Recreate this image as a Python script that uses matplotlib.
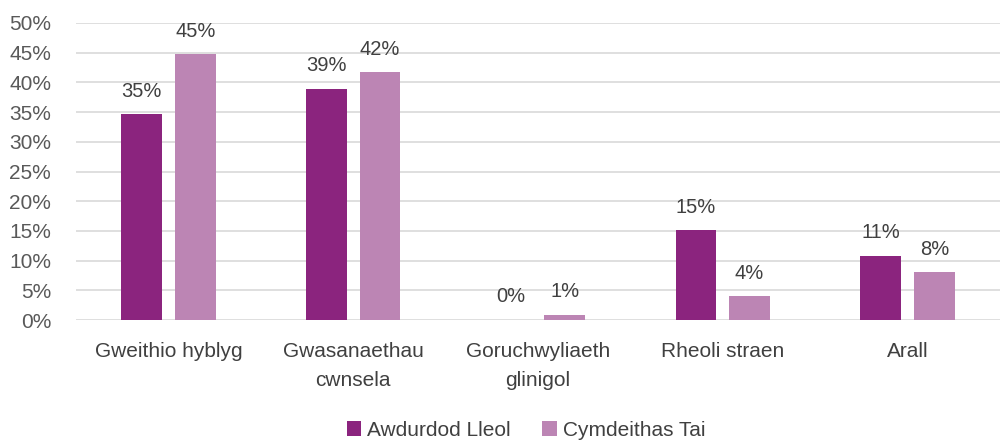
import matplotlib
matplotlib.use("Agg")
import matplotlib.pyplot as plt
import numpy as np

categories = ["Gweithio hyblyg", "Gwasanaethau\ncwnsela", "Goruchwyliaeth\nglinigol",
              "Rheoli straen", "Arall"]
awdurdod = [34.6, 38.9, 0.0, 15.1, 10.8]
cymdeithas = [44.7, 41.7, 0.9, 4.0, 8.05]
series_names = ["Awdurdod Lleol", "Cymdeithas Tai"]
yticks = list(range(0, 51, 5))

plt.rcParams["font.family"] = ["Liberation Sans", "DejaVu Sans"]

fig = plt.figure(figsize=(10.04, 4.41), dpi=100)
ax = fig.add_axes([76 / 1004, 121 / 441, 924 / 1004, 297 / 441])

x = np.arange(len(categories))
w = 0.22
off = 0.145
b1 = ax.bar(x - off, awdurdod, w, color="#8B247E", label=series_names[0], zorder=3)
b2 = ax.bar(x + off, cymdeithas, w, color="#BC85B4", label=series_names[1], zorder=3)

for bars, vals in ((b1, awdurdod), (b2, cymdeithas)):
    for bar, v in zip(bars, vals):
        ax.text(bar.get_x() + bar.get_width() / 2, v + 2.3, f"{round(v):.0f}%",
                ha="center", va="bottom", fontsize=14.5, color="#404040")

ax.set_xlim(-0.5, len(categories) - 0.5)
ax.set_ylim(0, 50)
ax.set_yticks(yticks)
ax.set_yticklabels([f"{t}%" for t in yticks])
ax.set_xticks(x)
ax.set_xticklabels(categories, linespacing=1.65)
ax.tick_params(axis="y", length=0, labelsize=15, labelcolor="#595959", pad=18)
ax.tick_params(axis="x", length=0, labelsize=15, labelcolor="#404040", pad=16)
ax.grid(axis="y", color="#d9d9d9", linewidth=1.2, zorder=0)
for s in ax.spines.values():
    s.set_visible(False)

fig.legend(loc="lower center", bbox_to_anchor=(0.524, -0.04), ncol=2, frameon=False,
           fontsize=15, handlelength=0.7, handleheight=0.7, handletextpad=0.3,
           columnspacing=1.5, labelcolor="#404040")

fig.savefig("out.png", dpi=100)
